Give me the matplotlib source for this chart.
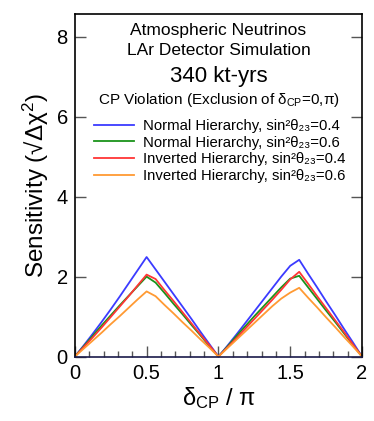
import matplotlib
matplotlib.use("Agg")
import matplotlib.pyplot as plt
from matplotlib.ticker import MultipleLocator
import numpy as np

plt.rcParams['font.family'] = ['Liberation Sans', 'DejaVu Sans']
plt.rcParams['mathtext.fontset'] = 'custom'
plt.rcParams['mathtext.rm'] = 'Liberation Sans'
plt.rcParams['mathtext.it'] = 'Liberation Sans'

delta = [0, 0.0625, 0.125, 0.1875, 0.25, 0.3125, 0.375, 0.4375, 0.5, 0.5625,
         0.625, 0.6875, 0.75, 0.8125, 0.875, 0.9375, 1.0,
         1.0625, 1.125, 1.1875, 1.25, 1.3125, 1.375, 1.4375, 1.5, 1.5625,
         1.625, 1.6875, 1.75, 1.8125, 1.875, 1.9375, 2.0]

nh_04 = [0, 0.28, 0.57, 0.87, 1.18, 1.50, 1.83, 2.16, 2.49, 2.18,
         1.87, 1.56, 1.25, 0.94, 0.62, 0.31, 0,
         0.27, 0.55, 0.84, 1.13, 1.42, 1.71, 2.00, 2.27, 2.42,
         2.07, 1.73, 1.38, 1.04, 0.69, 0.35, 0]
nh_06 = [0, 0.26, 0.52, 0.78, 1.03, 1.28, 1.52, 1.76, 2.00, 1.85,
         1.59, 1.32, 1.06, 0.79, 0.53, 0.26, 0,
         0.25, 0.51, 0.76, 1.01, 1.25, 1.49, 1.73, 1.95, 2.02,
         1.73, 1.44, 1.15, 0.87, 0.58, 0.29, 0]
ih_04 = [0, 0.24, 0.48, 0.73, 0.99, 1.25, 1.51, 1.78, 2.05, 1.94,
         1.66, 1.39, 1.11, 0.83, 0.55, 0.28, 0,
         0.23, 0.46, 0.70, 0.94, 1.18, 1.42, 1.67, 1.93, 2.12,
         1.82, 1.51, 1.21, 0.91, 0.61, 0.30, 0]
ih_06 = [0, 0.20, 0.40, 0.60, 0.81, 1.01, 1.22, 1.43, 1.63, 1.51,
         1.29, 1.08, 0.86, 0.65, 0.43, 0.22, 0,
         0.21, 0.42, 0.63, 0.84, 1.05, 1.26, 1.45, 1.60, 1.72,
         1.47, 1.23, 0.98, 0.74, 0.49, 0.25, 0]

labels = ['Normal Hierarchy, sin²θ₂₃=0.4',
          'Normal Hierarchy, sin²θ₂₃=0.6',
          'Inverted Hierarchy, sin²θ₂₃=0.4',
          'Inverted Hierarchy, sin²θ₂₃=0.6']
colors = ['#3b3bff', '#1a931a', '#ff3535', '#ff9a33']

fig = plt.figure(figsize=(3.74, 4.21), dpi=100)
ax = fig.add_axes([0.2, 0.153, 0.768, 0.814])

series = [nh_04, nh_06, ih_04, ih_06]
for y, c, l in zip(series, colors, labels):
    ax.plot(delta, y, color=c, lw=1.3, label=l)

ax.set_xlim(0, 2)
ax.set_ylim(0, 8.57)
ax.set_xticks([0, 0.5, 1, 1.5, 2])
ax.set_xticklabels(['0', '0.5', '1', '1.5', '2'])
ax.set_yticks([0, 2, 4, 6, 8])
ax.xaxis.set_minor_locator(MultipleLocator(0.1))
ax.tick_params(axis='both', which='major', direction='in', labelsize=14.5,
               length=8, width=1, color='#555555')
ax.tick_params(axis='x', which='minor', direction='in', length=4, width=1, color='#555555')
ax.tick_params(axis='y', which='both', right=True, pad=5)
ax.tick_params(axis='x', pad=5)
for s in ax.spines.values():
    s.set_linewidth(1.2)
ax.spines['bottom'].set_color('#1a1a4a')

ax.set_ylabel('Sensitivity (√Δχ$^2$)', fontsize=17.5, labelpad=4)
ax.set_xlabel(r'$\delta_{\rm CP}$ / $\pi$', fontsize=17, labelpad=2)

ax.text(0.5, 0.951, 'Atmospheric Neutrinos', transform=ax.transAxes,
        ha='center', va='center', fontsize=12.5)
ax.text(0.5, 0.894, 'LAr Detector Simulation', transform=ax.transAxes,
        ha='center', va='center', fontsize=12.5)
ax.text(0.5, 0.816, '340 kt-yrs', transform=ax.transAxes,
        ha='center', va='center', fontsize=16)
ax.text(0.5, 0.748, r'CP Violation (Exclusion of $\delta_{\rm CP}$=0,$\pi$)',
        transform=ax.transAxes, ha='center', va='center', fontsize=11)

leg = ax.legend(loc='upper left', bbox_to_anchor=(0.045, 0.711), frameon=False,
                fontsize=10.7, handlelength=2.7, handletextpad=0.6,
                labelspacing=0.18, borderaxespad=0)

fig.savefig('out.png', dpi=100)
